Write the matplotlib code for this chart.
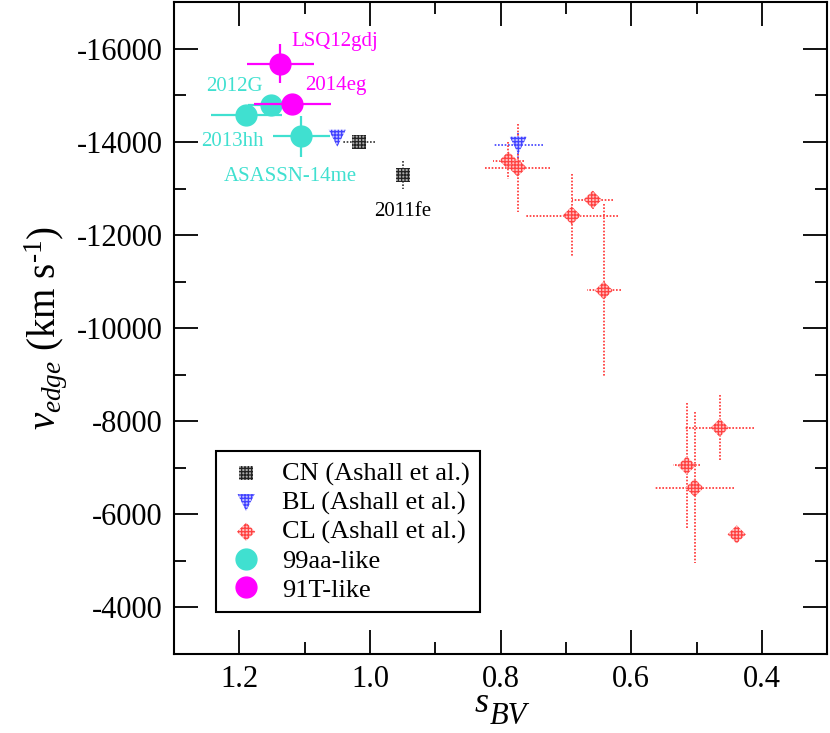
import matplotlib
matplotlib.use("Agg")
import matplotlib.pyplot as plt
from matplotlib.lines import Line2D

plt.rcParams['font.family'] = 'serif'
plt.rcParams['font.serif'] = ['Liberation Serif', 'DejaVu Serif']
plt.rcParams['mathtext.fontset'] = 'custom'
plt.rcParams['mathtext.rm'] = 'Liberation Serif'
plt.rcParams['mathtext.it'] = 'Liberation Serif:italic'
plt.rcParams['axes.unicode_minus'] = False
plt.rcParams['hatch.linewidth'] = 0.9

# CN (Ashall et al.)
cn_s = [1.017, 0.950]
cn_v = [-14000, -13300]
cn_ds = [0.025, 0.0]
cn_dv = [0, 300]

# BL (Ashall et al.)
bl_s = [1.050, 0.773]
bl_v = [-14080, -13930]
bl_ds = [0.0, 0.038]
bl_dv = [0, 270]

# CL (Ashall et al.)
cl_s = [0.788, 0.774, 0.659, 0.691, 0.642, 0.4645, 0.515, 0.503, 0.4385]
cl_v = [-13600, -13450, -12760, -12420, -10810, -7860, -7050, -6570, -5570]
cl_ds = [0.024, 0.050, 0.031, 0.071, 0.026, 0.053, 0.021, 0.060, 0.0]
cl_dv = [400, 945, 190, 900, 1860, 700, 1340, 1620, 0]

# 99aa-like
aa_names = ['2012G', '2013hh', 'ASASSN-14me']
aa_s = [1.151, 1.189, 1.105]
aa_v = [-14790, -14590, -14120]
aa_ds = [0.035, 0.055, 0.044]
aa_dv = [0, 0, 445]

# 91T-like
t_names = ['LSQ12gdj', '2014eg']
t_s = [1.137, 1.119]
t_v = [-15680, -14820]
t_ds = [0.051, 0.059]
t_dv = [420, 0]

# label spots (left edge, vertical centre) in data units
lab_names = ['LSQ12gdj', '2014eg', '2012G', '2013hh', 'ASASSN-14me', '2011fe']
lab_s = [1.120, 1.0985, 1.251, 1.259, 1.224, 0.993]
lab_v = [-16155, -15210, -15188, -14020, -13255, -12503]
lab_col = ['magenta', 'magenta', 'turquoise', 'turquoise', 'turquoise', 'black']

fig = plt.figure(figsize=(8.3, 7.33), dpi=100)
ax = fig.add_axes([0.2096, 0.1078, 0.787, 0.889])


def dotted_err(s, v, ds, dv, col):
    eb = ax.errorbar(s, v, xerr=ds, yerr=dv, fmt='none', ecolor=col,
                     elinewidth=1.2, capsize=0, zorder=2)
    for c in eb[2]:
        c.set_linestyle((0, (1, 1)))


dotted_err(cn_s, cn_v, cn_ds, cn_dv, '#333333')
dotted_err(bl_s, bl_v, bl_ds, bl_dv, '#4040ff')
dotted_err(cl_s, cl_v, cl_ds, cl_dv, '#ff3030')

# checkered look: light fill with a dense hatch
h_cn = ax.scatter(cn_s, cn_v, marker='s', s=100, facecolor='#aaaaaa', edgecolor='#222222',
                  hatch='+++++', linewidths=0, zorder=3)
h_bl = ax.scatter(bl_s, bl_v, marker='v', s=150, facecolor='#c0c0ff', edgecolor='#4040ff',
                  hatch='+++++', linewidths=0, zorder=3)
h_cl = ax.scatter(cl_s, cl_v, marker='D', s=85, facecolor='#ffc0c0', edgecolor='#ff4040',
                  hatch='+++++', linewidths=0, zorder=3)

ax.errorbar(aa_s, aa_v, xerr=aa_ds, yerr=aa_dv, fmt='o', ms=15, color='turquoise',
            ecolor='turquoise', elinewidth=1.6, capsize=0, zorder=4)
ax.errorbar(t_s, t_v, xerr=t_ds, yerr=t_dv, fmt='o', ms=15, color='magenta',
            ecolor='magenta', elinewidth=1.6, capsize=0, zorder=5)

for name, s, v, c in zip(lab_names, lab_s, lab_v, lab_col):
    ax.text(s, v, name, color=c, fontsize=15, ha='left', va='center')

ax.set_xlim(1.3, 0.3)
ax.set_ylim(-3000, -17000)
ax.set_xticks([1.2, 1.0, 0.8, 0.6, 0.4])
ax.set_xticklabels(['1.2', '1.0', '0.8', '0.6', '0.4'])
ax.set_xticks([1.1, 0.9, 0.7, 0.5], minor=True)
ax.set_yticks(range(-16000, -3000, 2000))
ax.set_yticks(range(-15000, -3000, 2000), minor=True)
ax.tick_params(which='both', direction='in', top=True, right=True, width=1.3,
               labelsize=22)
ax.tick_params(which='major', length=17, pad=8)
ax.tick_params(which='minor', length=8.5)
for sp in ax.spines.values():
    sp.set_linewidth(1.5)

# x label: italic s with a full-size, lowered BV (grace style)
ax.text(0.4608, -0.089, 's', transform=ax.transAxes, fontsize=26, style='italic',
        ha='left', va='baseline', clip_on=False)
ax.text(0.4838, -0.1075, 'BV', transform=ax.transAxes, fontsize=22, style='italic',
        ha='left', va='baseline', clip_on=False)
ax.set_ylabel(r'$v_{edge}$ (km s$^{\text{-}1}$)', fontsize=28, labelpad=6)

handles = [h_cn, h_bl, h_cl,
           Line2D([], [], ls='none', marker='o', ms=15, color='turquoise'),
           Line2D([], [], ls='none', marker='o', ms=15, color='magenta')]
labels = ['CN (Ashall et al.)', 'BL (Ashall et al.)', 'CL (Ashall et al.)',
          '99aa-like', '91T-like']
leg = ax.legend(handles, labels, loc='upper left', bbox_to_anchor=(0.064, 0.311),
                borderaxespad=0, fontsize=19, frameon=True, fancybox=False,
                edgecolor='black', framealpha=1, handletextpad=0.6,
                labelspacing=0.2, borderpad=0.4, handlelength=1.5)
leg.get_frame().set_linewidth(1.5)

fig.savefig('out.png', dpi=100)
